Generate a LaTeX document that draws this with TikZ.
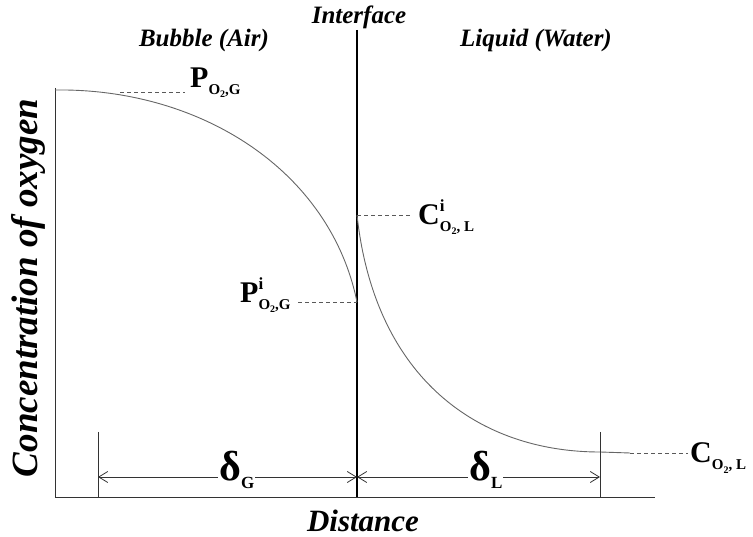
\documentclass[tikz,border=0pt]{standalone}
\usepackage{fontspec}
\setmainfont{Liberation Serif}
\usetikzlibrary{arrows.meta}
\newcommand{\smallsub}[1]{\raisebox{-7pt}{\fontsize{15}{15}\selectfont #1}}
\newcommand{\dsub}[1]{\raisebox{-8pt}{\fontsize{17}{17}\selectfont #1}}
\newcommand{\otwo}{O\raisebox{-3pt}{\fontsize{10}{10}\selectfont 2}}
\newcommand{\supi}{\makebox[0pt][l]{\raisebox{13pt}{\fontsize{17}{17}\selectfont i}}}
\begin{document}
\begin{tikzpicture}[x=1pt,y=-1pt,
  curve/.style={draw=black!60,line width=0.9pt},
  guide/.style={draw=black!65,line width=0.8pt,dash pattern=on 4pt off 3pt},
  axisline/.style={draw=black!80,line width=1pt},
  dim/.style={draw=black!80,line width=0.8pt,{Straight Barb[length=9pt,width=11pt]}-{Straight Barb[length=9pt,width=11pt]}},
  title/.style={font=\bfseries\itshape\fontsize{25}{25}\selectfont,inner sep=0pt},
  axtitle/.style={font=\bfseries\itshape\fontsize{31}{31}\selectfont,inner sep=0pt},
  conc/.style={font=\bfseries\fontsize{30}{30}\selectfont,inner sep=0pt,anchor=base west},
  delta/.style={font=\bfseries\fontsize{42}{42}\selectfont,fill=white,inner sep=1pt,anchor=base west}]
\useasboundingbox (0,0) rectangle (753,537);
% axes
\coordinate (o) at (55,497);
\coordinate (ytop) at (55,88);
\coordinate (xend) at (655,497);
\draw[axisline] (ytop) -- (o) -- (xend);
% interface
\coordinate (itop) at (357,30);
\coordinate (ibot) at (357,497);
\draw[black,line width=1.8pt] (itop) -- (ibot);
% curves
\coordinate (g0) at (55,90);
\coordinate (g1) at (120,92);
\coordinate (gi) at (357,302);
\coordinate (li) at (357,215);
\coordinate (l1) at (600,452);
\coordinate (l2) at (630,453);
\draw[curve] (g0) .. controls (200,88) and (330,170) .. (gi);
\draw[curve] (li) .. controls (375,380) and (480,452) .. (l1) -- (l2);
% guides
\coordinate (pgd) at (185,92);
\coordinate (pid) at (298,302);
\coordinate (cid) at (410,215);
\coordinate (cld) at (688,453);
\draw[guide] (g1) -- (pgd);
\draw[guide] (pid) -- (gi);
\draw[guide] (li) -- (cid);
\draw[guide] (l2) -- (cld);
% labels
\node[conc] (pg) at (190,88) {P\smallsub{\otwo,G}};
\node[conc] (pgi) at (240,303) {P\supi\smallsub{\otwo,G}};
\node[conc] (cli) at (418,225) {C\supi\smallsub{\otwo, L}};
\node[conc] (cl) at (690,463) {C\smallsub{\otwo, L}};
% dimension ticks
\coordinate (t1a) at (98,432);
\coordinate (t1b) at (98,497);
\coordinate (t2a) at (600,432);
\coordinate (t2b) at (600,497);
\draw[axisline,line width=0.8pt] (t1a) -- (t1b);
\draw[axisline,line width=0.8pt] (t2a) -- (t2b);
\coordinate (a1) at (98,477);
\coordinate (a2) at (357,477);
\coordinate (a3) at (600,477);
\draw[dim] (a1) -- (a2);
\draw[dim] (a2) -- (a3);
\node[delta] (dg) at (218,481) {δ\dsub{G}};
\node[delta] (dl) at (468,481) {δ\dsub{L}};
% titles
\node[title] (itf) at (359,17) {Interface};
\node[title] (bub) at (204,40) {Bubble (Air)};
\node[title] (liq) at (536,40) {Liquid (Water)};
\node[axtitle] (dist) at (363,521) {Distance};
\node[axtitle,rotate=90,font=\bfseries\itshape\fontsize{37}{37}\selectfont] (cox) at (28,288) {Concentration of oxygen};
\end{tikzpicture}
\end{document}
